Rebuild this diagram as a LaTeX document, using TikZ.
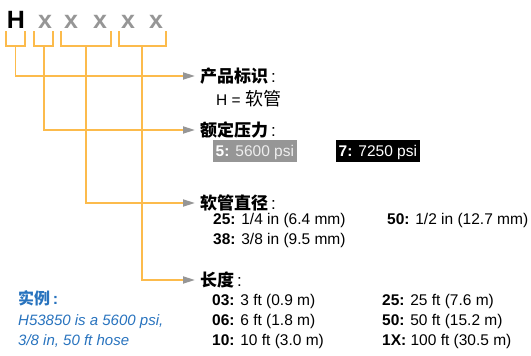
\documentclass[tikz,border=0pt]{standalone}
\usepackage{fontspec}
\setmainfont{Liberation Sans}
\newfontfamily\cjk{Noto Sans CJK SC}
\usetikzlibrary{arrows.meta}
\definecolor{org}{RGB}{252,187,76}
\definecolor{tipgray}{RGB}{150,150,150}
\definecolor{xgray}{RGB}{150,150,150}
\definecolor{boxgray}{RGB}{150,150,150}
\definecolor{exblue}{RGB}{40,115,190}
\begin{document}
\begin{tikzpicture}[x=1pt,y=-1pt,
  big/.style={font=\fontsize{25}{25}\selectfont\bfseries, anchor=base, inner sep=0pt},
  head/.style={font=\cjk\bfseries\fontsize{17}{17}\selectfont, anchor=base west, inner sep=0pt},
  txt/.style={font=\fontsize{15.5}{18}\selectfont, anchor=base west, inner sep=0pt},
  extxt/.style={font=\fontsize{15}{18}\selectfont\itshape, text=exblue, anchor=base west, inner sep=0pt},
  exhead/.style={font=\cjk\bfseries\fontsize{16}{16}\selectfont, text=exblue, anchor=base west, inner sep=0pt},
  psibox/.style={font=\fontsize{15.5}{18}\selectfont, anchor=base west, inner xsep=2.5pt, inner ysep=0pt, text height=16.5pt, text depth=5.5pt},
  bracket/.style={draw=org, line width=1.8pt},
  link/.style={draw=org, line width=1.8pt, -{Triangle[length=12pt,width=7pt,color=tipgray]}}
]
\useasboundingbox (0,0) rectangle (531,356);

% code letters
\node[big, text=black] (cH) at (16,28) {H};
\node[big, text=xgray] (cx1) at (45,28) {x};
\node[big, text=xgray] (cx2) at (71,28) {x};
\node[big, text=xgray] (cx3) at (100,28) {x};
\node[big, text=xgray] (cx4) at (128,28) {x};
\node[big, text=xgray] (cx5) at (156,28) {x};

% brackets
\draw[bracket] (6,31) |- (25,46) -- (25,31);
\draw[bracket] (34.3,31) |- (53.3,46) -- (53.3,31);
\draw[bracket] (60.7,31) |- (111,46) -- (111,31);
\draw[bracket] (119,31) |- (165.7,46) -- (165.7,31);

\coordinate (s1) at (15.5,46);
\coordinate (s2) at (43.8,46);
\coordinate (s3) at (85.8,46);
\coordinate (s4) at (142.3,46);
\coordinate (t1) at (195,76);
\coordinate (t2) at (195,130);
\coordinate (t3) at (195,203);
\coordinate (t4) at (195,280);

\draw[link] (s1) |- (t1);
\draw[link] (s2) |- (t2);
\draw[link] (s3) |- (t3);
\draw[link] (s4) |- (t4);

% section 1
\node[head] (h1) at (200,82.5) {产品标识{\normalfont\,:}};
\node[txt] (h1a) at (216,105) {H = {\cjk\fontsize{18}{18}\selectfont 软管}};

% section 2
\node[head] (h2) at (200,136.5) {额定压力{\normalfont\,:}};
\node[psibox, fill=boxgray, text=white] (p5) at (213,156.5) {\textbf{5:}\hspace{6pt}{\color[RGB]{238,238,238}5600 psi}};
\node[psibox, fill=black, text=white] (p7) at (336,156.5) {\textbf{7:}\hspace{6pt}7250 psi};

% section 3
\node[head] (h3) at (200,209.5) {软管直径{\normalfont\,:}};
\node[txt] (d25) at (213,224.5) {\textbf{25:} 1/4 in (6.4 mm)};
\node[txt] (d38) at (213,244.5) {\textbf{38:} 3/8 in (9.5 mm)};
\node[txt] (d50) at (387,224.5) {\textbf{50:} 1/2 in (12.7 mm)};

% section 4
\node[head] (h4) at (200,286.5) {长度{\normalfont\,:}};
\node[txt] (l03) at (212,305.5) {\textbf{03:} 3 ft (0.9 m)};
\node[txt] (l06) at (212,325.5) {\textbf{06:} 6 ft (1.8 m)};
\node[txt] (l10) at (212,345.5) {\textbf{10:} 10 ft (3.0 m)};
\node[txt] (l25) at (382,305.5) {\textbf{25:} 25 ft (7.6 m)};
\node[txt] (l50) at (382,325.5) {\textbf{50:} 50 ft (15.2 m)};
\node[txt] (l1X) at (382,345.5) {\textbf{1X:} 100 ft (30.5 m)};

% example
\node[exhead] (exh) at (18,304) {实例{\normalfont\bfseries\,:}};
\node[extxt] (ex1) at (18,325.5) {H53850 is a 5600 psi,};
\node[extxt] (ex2) at (18,345.5) {3/8 in, 50 ft hose};
\end{tikzpicture}
\end{document}
